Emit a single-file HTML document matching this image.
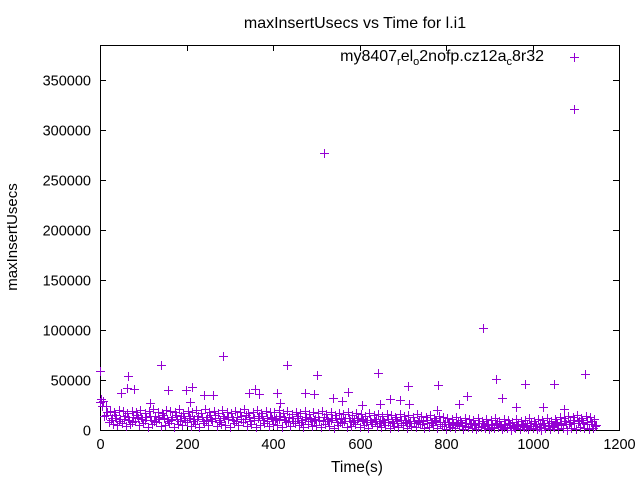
<!DOCTYPE html>
<html><head><meta charset="utf-8"><style>
html,body{margin:0;padding:0;background:#fff;}
svg{display:block;font-family:"Liberation Sans",sans-serif;}
</style></head><body>
<svg id="chart" width="640" height="480">
<rect x="0" y="0" width="640" height="480" fill="#fff"/>
<text x="355" y="28" text-anchor="middle" font-size="16">maxInsertUsecs vs Time for l.i1</text>
<text transform="translate(17,237) rotate(-90)" text-anchor="middle" font-size="15">maxInsertUsecs</text>
<text x="357" y="472" text-anchor="middle" font-size="15.5">Time(s)</text>
<g id="axes"></g>
<g id="points" shape-rendering="crispEdges"></g>
<g>
<text x="544" y="61" text-anchor="end" font-size="16">my8407<tspan font-size="11" dy="4">r</tspan><tspan dy="-4">el</tspan><tspan font-size="11" dy="4">o</tspan><tspan dy="-4">2nofp.cz12a</tspan><tspan font-size="11" dy="4">c</tspan><tspan dy="-4">8r32</tspan></text>
<path d="M570 57.5h9M574.5 53v9" stroke="#9400d3" stroke-width="1" shape-rendering="crispEdges"/>
</g>
</svg>
<script>
const xTicks=[0,200,400,600,800,1000,1200];
const yTicks=[0,50000,100000,150000,200000,250000,300000,350000];
const outX=[0,65,141,284,432,502,518,885,1096,62,79,48,157,198,213,240,261,345,358,368,409,474,495,539,559,573,208,115,416,643,712,781,916,983,1050,1121,606,647,670,694,714,849,930,962,1024,1073,830,780];
const outY=[59,54,65,74,65,55,277,102,321,42,41,37,40,40,43,35,35,37,41,36,37,37,36,32,29,38,28,27,27,57,44,45,51,46,46,56,25,26,31,30,26,34,32,23,23,21,26,20,22];
const lo=[28,14,8,6,5,7,4,6,9,5,7,3,6,8,4,5,7,3,6,5,8,4,6,3,7,5,9,4,6,5,3,7,5,8,4,6,3,5,7,4,6,5,3,8,4,7,5,3,6,4,5,3,6,4,2,5,7,3,4,6,3,5,2,6,4,3,5,2,4,3,5,2,4,3,6,2,3,5,2,4,1,3,2,4,1,3,2,1,3,2,1,2,3,1,2,0,2,1,3,1,2,1,0,2,1,3,1,2,0,2,1,3,2,1,2];
const hi=[31,24,19,18,20,19,17,19,18,20,17,19,21,18,17,20,19,18,21,17,19,18,20,17,21,18,19,17,20,18,17,19,18,21,17,18,20,17,19,18,18,20,17,19,16,18,17,19,16,18,17,19,16,18,15,17,16,18,15,17,16,14,17,15,16,14,16,15,13,16,14,15,13,16,14,13,15,12,14,13,12,11,13,10,12,11,10,12,9,11,10,12,9,11,10,8,11,9,10,12,9,11,10,12,9,11,13,12,14,13,15,12,14,13,11];
const mid=[29,18,12,12,11,14,10,13,12,11,13,10,14,11,12,9,13,11,14,10,12,11,14,9,13,11,15,10,12,13,10,13,11,15,9,12,14,10,12,11,12,14,10,13,9,12,10,13,9,11,10,13,9,12,8,11,12,9,10,12,9,10,8,11,9,8,11,7,9,10,8,9,7,10,9,7,8,10,6,8,6,7,8,5,7,6,5,7,4,6,5,7,4,6,5,3,6,4,5,7,4,6,5,7,4,6,7,6,8,7,9,7,8,6,5];
const mid2=[24,15,10,15,9,11,13,8,15,13,10,14,9,13,15,11,10,15,9,12,14,9,11,13,10,15,12,8,14,11,13,9,14,11,13,10,12,14,9,13,10,11,13,9,12,14,8,11,12,10,13,9,11,10,12,8,9,12,8,10,11,8,10,9,7,10,8,9,11,7,10,7,9,8,6,10,7,9,8,6,8,5,6,8,4,7,6,3,7,5,3,6,5,3,7,4,5,6,3,4,6,3,7,4,5,8,5,9,6,10,7,10,6,9,4];

const L=100,R=619,T=45,B=430;
const xs=v=>L+v/1200*(R-L);
const ys=v=>B-v/350000*(B-80);
const NS='http://www.w3.org/2000/svg';
const axes=document.getElementById('axes');
const pts=document.getElementById('points');
function mk(tag,attrs,parent){const e=document.createElementNS(NS,tag);for(const k in attrs)e.setAttribute(k,attrs[k]);parent.appendChild(e);return e;}
const frame=mk('rect',{x:L+0.5,y:T+0.5,width:R-L,height:B-T,fill:'none',stroke:'#000','stroke-width':1},axes);


xTicks.forEach(t=>{
  const x=Math.round(xs(t))+0.5;
  const tk=mk('path',{d:`M${x} ${B}v-6M${x} ${T}v6`,stroke:'#000','stroke-width':1},axes);
  
  
  const lb=mk('text',{x:x,y:B+19,'text-anchor':'middle','font-size':14.5},axes);
  lb.textContent=t;
  
  
});
yTicks.forEach(t=>{
  const y=Math.round(ys(t))+0.5;
  const tk=mk('path',{d:`M${L} ${y}h6M${R} ${y}h-6`,stroke:'#000','stroke-width':1},axes);
  
  
  const lb=mk('text',{x:L-9,y:y+5,'text-anchor':'end','font-size':14.5},axes);
  lb.textContent=t;
  
  
});
let d='';
function add(t,vk){const x=Math.round(xs(t))+0.5,y=Math.round(ys(vk*1000))+0.5;d+=`M${x-4.5} ${y}h9M${x} ${y-4.5}v9`;}
lo.forEach((v,i)=>add(i*10,v));
hi.forEach((v,i)=>add(i*10+3,v));
mid.forEach((v,i)=>add(i*10+7,v));
mid2.forEach((v,i)=>add(i*10+5,v));
outX.forEach((t,i)=>add(t,outY[i]));
const p=mk('path',{d:d,stroke:'#9400d3','stroke-width':1,fill:'none'},pts);


</script>
</body></html>
